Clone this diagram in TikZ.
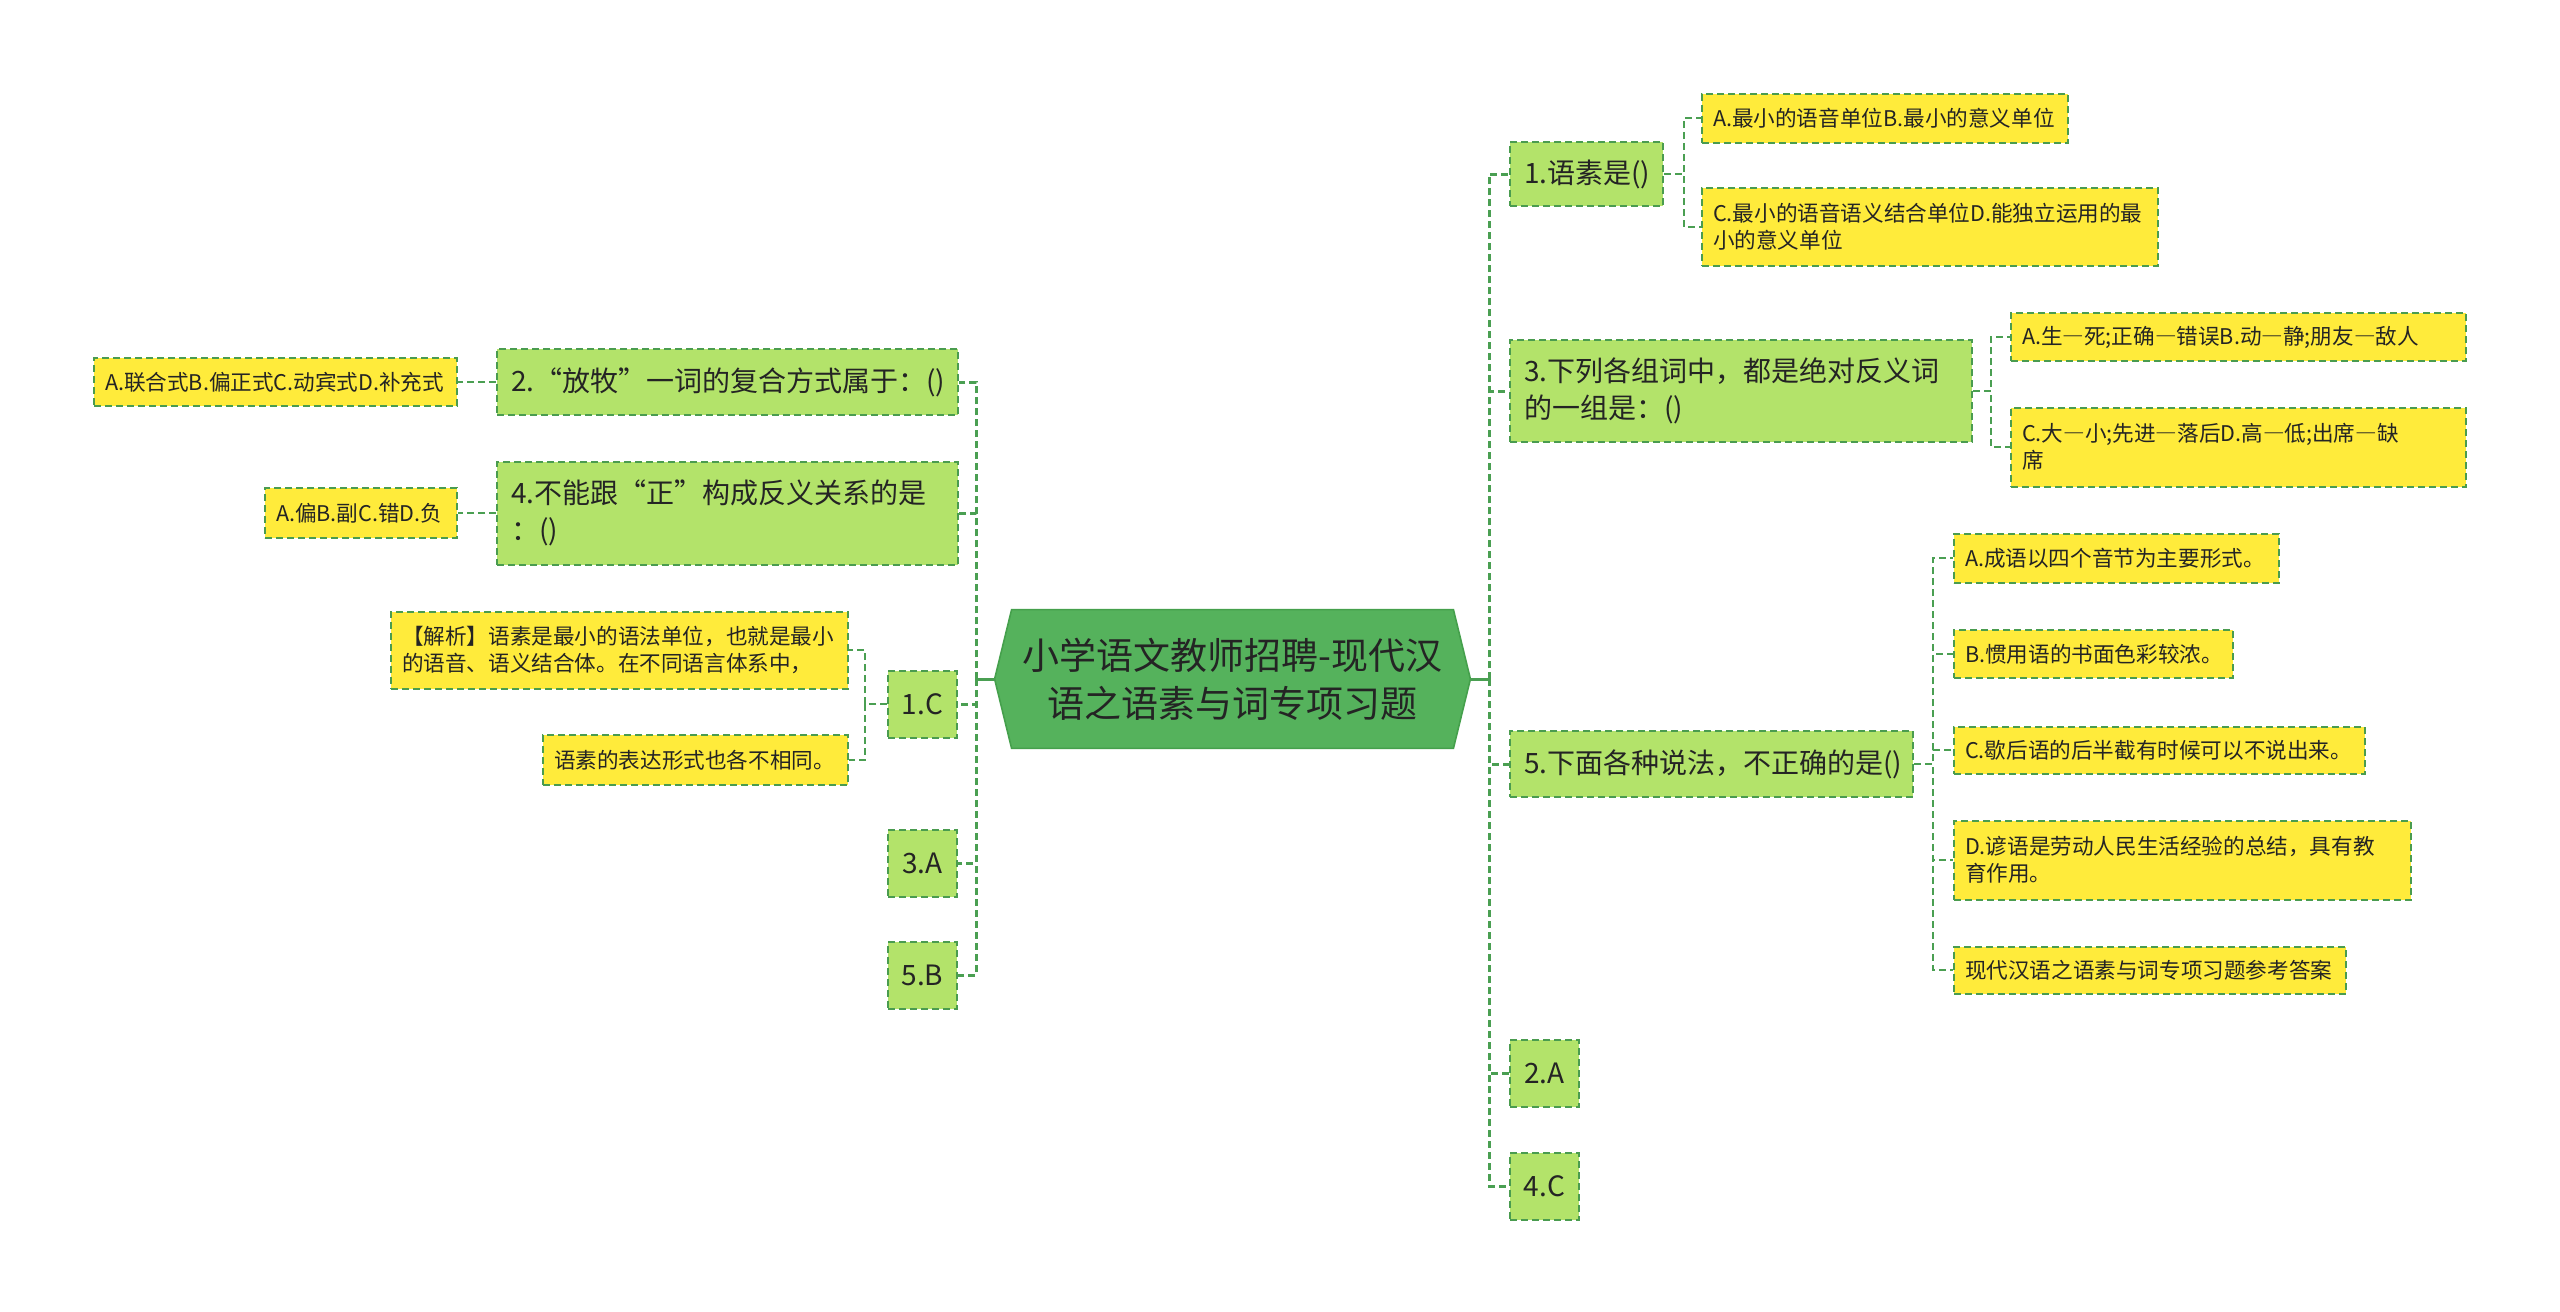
\documentclass[tikz,border=0pt]{standalone}
\usepackage{fontspec}
\setmainfont{Noto Sans CJK SC}
\usetikzlibrary{backgrounds}
\definecolor{rootfill}{HTML}{55B25C}
\definecolor{rootdraw}{HTML}{45A04C}
\definecolor{lgfill}{HTML}{B3E36A}
\definecolor{yfill}{HTML}{FFEB3B}
\definecolor{bgreen}{HTML}{4A9C4F}
\definecolor{linkc}{HTML}{4A9F52}
\definecolor{txt}{HTML}{242424}
\newcommand\fdash{―}
\tikzset{
  boxbase/.style={draw=bgreen, line width=1pt, dash pattern=on 3.5pt off 2pt, text=txt, inner ysep=0pt, anchor=west},
  lvone/.style={boxbase, fill=lgfill, font=\fontsize{14}{18.5}\selectfont, inner xsep=7pt, align=left},
  lvans/.style={boxbase, fill=lgfill, font=\fontsize{14}{18.5}\selectfont, inner xsep=2pt, align=center, minimum width=34.5pt, minimum height=33.5pt},
  lvtwo/.style={boxbase, fill=yfill, font=\fontsize{10.8}{13.5}\selectfont, inner xsep=5.5pt, align=left},
  rootbox/.style={text=txt, font=\fontsize{18.5}{24}\selectfont, align=center, minimum width=237.5pt, minimum height=69pt, inner sep=0pt},
  hexstyle/.style={fill=rootfill, draw=rootdraw, line width=0.8pt},
  stub/.style={draw=linkc, line width=1.5pt},
  mainlink/.style={draw=linkc, line width=1.5pt, dash pattern=on 3.5pt off 2pt},
  sublink/.style={draw=linkc, line width=1pt, dash pattern=on 3.5pt off 2pt}
}
\begin{document}
\begin{tikzpicture}[x=0.5pt,y=-0.5pt]
\begin{pgfonlayer}{background}
\fill[white] (0,0) rectangle (2560,1312);
\end{pgfonlayer}
\useasboundingbox (0,0) rectangle (2560,1312);

% root
\node[rootbox] (root) at (1232.5,679) {小学语文教师招聘-现代汉\\语之语素与词专项习题};
\begin{pgfonlayer}{background}
\path[hexstyle] ([xshift=8.5pt]root.north west) -- ([xshift=-8.5pt]root.north east) -- (root.east) -- ([xshift=-8.5pt]root.south east) -- ([xshift=8.5pt]root.south west) -- (root.west) -- cycle;
\end{pgfonlayer}

% right level 1
\node[lvone, text width=62.5pt, minimum height=32pt] (R1) at (1509,174) {1.语素是()};
\node[lvone, text width=217pt, minimum height=51pt] (R3) at (1509,391) {3.下列各组词中，都是绝对反义词\\的一组是：()};
\node[lvone, text width=187.5pt, minimum height=33pt] (R5) at (1509,764) {5.下面各种说法，不正确的是()};
\node[lvans] (R2A) at (1509,1073) {2.A};
\node[lvans] (R4C) at (1509,1186) {4.C};

% right level 2
\node[lvtwo, text width=172pt, minimum height=24.5pt] (R1a) at (1701,118) {A.最小的语音单位B.最小的意义单位};
\node[lvtwo, text width=217pt, minimum height=39pt] (R1c) at (1701,227) {C.最小的语音语义结合单位D.能独立运用的最\\小的意义单位};
\node[lvtwo, text width=216.5pt, minimum height=24pt] (R3a) at (2010,337) {A.生\fdash 死;正确\fdash 错误B.动\fdash 静;朋友\fdash 敌人};
\node[lvtwo, text width=216.5pt, minimum height=39.5pt] (R3c) at (2010,447) {C.大\fdash 小;先进\fdash 落后D.高\fdash 低;出席\fdash 缺\\席};
\node[lvtwo, text width=151.5pt, minimum height=24.5pt] (R5a) at (1953,558) {A.成语以四个音节为主要形式。};
\node[lvtwo, text width=128.5pt, minimum height=24pt] (R5b) at (1953,654) {B.惯用语的书面色彩较浓。};
\node[lvtwo, text width=194.5pt, minimum height=23.5pt] (R5c) at (1953,750) {C.歇后语的后半截有时候可以不说出来。};
\node[lvtwo, text width=217.5pt, minimum height=39.5pt] (R5d) at (1953,860) {D.谚语是劳动人民生活经验的总结，具有教\\育作用。};
\node[lvtwo, text width=185pt, minimum height=23.5pt] (R5e) at (1953,970) {现代汉语之语素与词专项习题参考答案};

% left level 1
\node[lvone, text width=216.5pt, minimum height=33pt] (L2) at (496,382) {2.“放牧”一词的复合方式属于：()};
\node[lvone, text width=216.5pt, minimum height=51.5pt] (L4) at (496,513) {4.不能跟“正”构成反义关系的是\\：()};
\node[lvans] (L1C) at (887,704) {1.C};
\node[lvans] (L3A) at (887,863) {3.A};
\node[lvans] (L5B) at (887,975) {5.B};

% left level 2
\node[lvtwo, text width=170.5pt, minimum height=24pt] (L2a) at (93,382) {A.联合式B.偏正式C.动宾式D.补充式};
\node[lvtwo, text width=85pt, minimum height=25pt] (L4a) at (264,513) {A.偏B.副C.错D.负};
\node[lvtwo, text width=217.5pt, minimum height=38.5pt] (L1a) at (390,650) {【解析】语素是最小的语法单位，也就是最小\\的语音、语义结合体。在不同语言体系中，};
\node[lvtwo, text width=141.5pt, minimum height=25pt] (L1b) at (542,760) {语素的表达形式也各不相同。};

% spines
\coordinate (rs) at (1489,679);
\coordinate (ls) at (976,679);
\draw[stub] (root.east) -- (rs);
\draw[stub] (root.west) -- (ls);
\foreach \n in {R1,R3,R5,R2A,R4C} \draw[mainlink] (rs) |- (\n.west);
\foreach \n in {L2,L4,L1C,L3A,L5B} \draw[mainlink] (ls) |- (\n.east);

% sub connectors
\foreach \n in {R1a,R1c} \draw[sublink] (R1.east) -- ++(20,0) |- (\n.west);
\foreach \n in {R3a,R3c} \draw[sublink] (R3.east) -- ++(18,0) |- (\n.west);
\foreach \n in {R5a,R5b,R5c,R5d,R5e} \draw[sublink] (R5.east) -- ++(19,0) |- (\n.west);
\foreach \n in {L1a,L1b} \draw[sublink] (L1C.west) -- ++(-22,0) |- (\n.east);
\draw[sublink] (L2.west) -- (L2a.east);
\draw[sublink] (L4.west) -- (L4a.east);
\end{tikzpicture}
\end{document}
